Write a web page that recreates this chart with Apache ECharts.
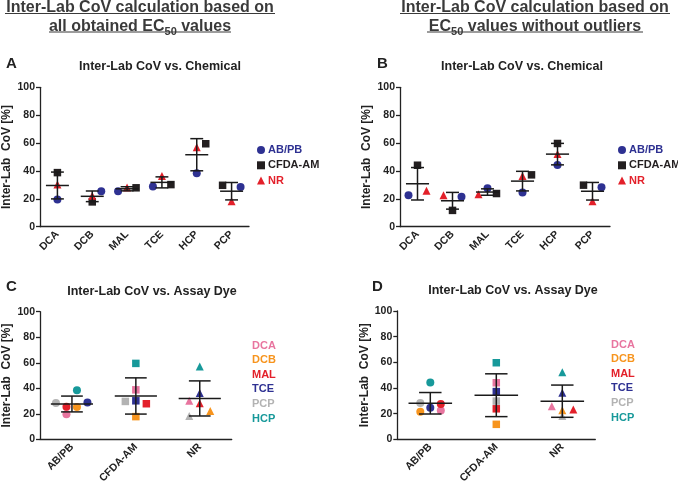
<!DOCTYPE html>
<html><head><meta charset="utf-8">
<script src="https://cdn.jsdelivr.net/npm/echarts@6/dist/echarts.min.js"></script>
<style>html,body{margin:0;padding:0;background:#fff}#c{width:678px;height:486px}</style>
</head><body><div id="c"></div>
<script>
// ---------- data ----------
const chemicals = ['DCA', 'DCB', 'MAL', 'TCE', 'HCP', 'PCP'];
const dyes = ['AB/PB', 'CFDA-AM', 'NR'];
const yTicks = [0, 20, 40, 60, 80, 100];
// all obtained EC50 values (panels A & C), per dye, in chemical order
const allABPB = [19.6, 25.4, 25.5, 28.9, 38.4, 28.4];
const allCFDA = [38.8, 17.8, 27.9, 30.2, 59.5, 29.7];
const allNR   = [30.3, 22.2, 28.2, 36.3, 57.0, 18.3];
// EC50 values without outliers (panels B & D)
const noOutABPB = [22.5, 21.5, 27.5, 24.6, 44.3, 28.3];
const noOutCFDA = [44.1, 11.7, 23.8, 37.2, 59.7, 29.8];
const noOutNR   = [25.8, 22.6, 23.3, 36.3, 52.2, 18.2];

// ---------- styles ----------
const dyeColor = {'AB/PB': '#2e3192', 'CFDA-AM': '#231f20', 'NR': '#e3202a'};
const dyeSymbol = {'AB/PB': 'circle', 'CFDA-AM': 'rect', 'NR': 'triangle'};
const dyeSize = {'AB/PB': 8, 'CFDA-AM': 7.5, 'NR': 8};
const chemColor = {DCA: '#e8759f', DCB: '#f7941d', MAL: '#e3202a', TCE: '#2e3192', PCP: '#b3b3b3', HCP: '#17999a'};
const chemLegendOrder = ['DCA', 'DCB', 'MAL', 'TCE', 'PCP', 'HCP'];
// jitter offsets (px) used only for drawing, as in the original scatter plot
const jitterA = {'AB/PB': [0, 9, -9, -9, 0, 9], 'CFDA-AM': [0, 0, 9, 9, 9, -9], 'NR': [0, 0, 0, 0, 0, 0]};
const jitterB = {'AB/PB': [-9, 9, 0, 0, 0, 9], 'CFDA-AM': [0, 0, 9, 9, 0, -9], 'NR': [9, -9, -9, 0, 0, 0]};
// per chemical: offsets for [AB/PB, CFDA-AM, NR]
const jitterC = {DCA: [-5.5, 0, -10.5], DCB: [5, 0, 10.5], MAL: [-5.5, 10.5, 0], TCE: [15.5, 0, 0], HCP: [5, 0, 0], PCP: [-16, -10.5, -10.5]};
const jitterD = {DCA: [10.5, 0, -10.5], DCB: [-10, 0, 0], MAL: [10.5, 0, 11], TCE: [0, 0, 0], HCP: [0, 0, 0], PCP: [-10, 0, 0]};

function meanSd(arr) {
  const m = arr.reduce((a, b) => a + b, 0) / arr.length;
  const v = arr.reduce((a, b) => a + (b - m) * (b - m), 0) / (arr.length - 1);
  return [m, Math.sqrt(v)];
}

const font = 'Liberation Sans, Arial, sans-serif';
const txt = '#222';

function axesFor(gi, cats, nameGap) {
  return {
    x: {
      type: 'category', gridIndex: gi, data: cats, boundaryGap: true,
      axisLine: {lineStyle: {color: txt, width: 1.3}},
      axisTick: {alignWithLabel: true, length: 4, lineStyle: {color: txt, width: 1.3}},
      axisLabel: {rotate: 45, fontSize: 10.5, fontWeight: 'bold', color: txt, fontFamily: font, margin: 6}
    },
    y: {
      type: 'value', gridIndex: gi, min: 0, max: 100, interval: 20,
      name: 'Inter-Lab  CoV [%]', nameLocation: 'middle', nameGap: nameGap,
      nameTextStyle: {fontSize: 12, fontWeight: 'bold', color: txt, fontFamily: font},
      axisLine: {show: true, lineStyle: {color: txt, width: 1.3}},
      axisTick: {show: true, length: 4, lineStyle: {color: txt, width: 1.3}},
      splitLine: {show: false},
      axisLabel: {fontSize: 10.5, fontWeight: 'bold', color: txt, fontFamily: font, margin: 5,
        formatter: v => yTicks.includes(v) ? String(v) : ''}
    }
  };
}

function errSeries(gi, groups, meanFrac, capFrac) {
  const data = groups.map((g, i) => { const [m, s] = meanSd(g); return [i, m, m - s, m + s]; });
  return {
    type: 'custom', xAxisIndex: gi, yAxisIndex: gi, z: 5, silent: true,
    data: data,
    renderItem: function (params, api) {
      const c = api.coord([api.value(0), api.value(1)]);
      const lo = api.coord([api.value(0), api.value(2)]);
      const hi = api.coord([api.value(0), api.value(3)]);
      const bw = api.size([1, 0])[0];
      const hm = bw * meanFrac / 2, hc = bw * capFrac / 2;
      const st = {stroke: '#1a1a1a', lineWidth: 1.5};
      return {type: 'group', children: [
        {type: 'line', shape: {x1: c[0] - hm, y1: c[1], x2: c[0] + hm, y2: c[1]}, style: st},
        {type: 'line', shape: {x1: c[0], y1: lo[1], x2: c[0], y2: hi[1]}, style: st},
        {type: 'line', shape: {x1: c[0] - hc, y1: lo[1], x2: c[0] + hc, y2: lo[1]}, style: st},
        {type: 'line', shape: {x1: c[0] - hc, y1: hi[1], x2: c[0] + hc, y2: hi[1]}, style: st}
      ]};
    }
  };
}

const grids = [
  {left: 40, top: 87.3, width: 209, height: 139.4},
  {left: 400, top: 87.3, width: 210, height: 139.4},
  {left: 35.7, top: 311.7, width: 196, height: 130.6},
  {left: 397.3, top: 311, width: 198, height: 131.3}
];

const axA = axesFor(0, chemicals, 27), axB = axesFor(1, chemicals, 27);
const axC = axesFor(2, dyes, 27), axD = axesFor(3, dyes, 27);

const series = [];
function chemPanel(gi, vals, jit) {
  dyes.forEach((d, k) => {
    series.push({
      name: d, type: 'scatter', xAxisIndex: gi, yAxisIndex: gi, z: 3,
      symbol: dyeSymbol[d], symbolSize: dyeSize[d],
      itemStyle: {color: dyeColor[d], opacity: 1},
      data: vals[k].map((v, i) => ({value: [i, v], symbolOffset: [jit[d][i], 0]}))
    });
  });
  const groups = chemicals.map((c, i) => vals.map(a => a[i]));
  series.push(errSeries(gi, groups, 0.66, 0.37));
}
function dyePanel(gi, vals, jit) {
  chemicals.forEach((c, i) => {
    series.push({
      name: c, type: 'scatter', xAxisIndex: gi, yAxisIndex: gi, z: 3,
      itemStyle: {color: chemColor[c], opacity: 1},
      data: dyes.map((d, k) => ({value: [k, vals[k][i]], symbol: dyeSymbol[d], symbolSize: dyeSize[d],
        symbolOffset: [jit[c][k], 0]}))
    });
  });
  series.push(errSeries(gi, vals, 0.66, 0.34));
}
chemPanel(0, [allABPB, allCFDA, allNR], jitterA);
chemPanel(1, [noOutABPB, noOutCFDA, noOutNR], jitterB);
dyePanel(2, [allABPB, allCFDA, allNR], jitterC);
dyePanel(3, [noOutABPB, noOutCFDA, noOutNR], jitterD);

function dyeLegend(left) {
  return {
    orient: 'vertical', left: left, top: 144.5, itemWidth: 8, itemHeight: 8, itemGap: 4.3,
    selectedMode: false, padding: 0,
    textStyle: {fontSize: 11, fontWeight: 'bold', fontFamily: font, padding: [0, 0, 0, -2]},
    data: dyes.map(d => ({name: d, icon: dyeSymbol[d], textStyle: {color: dyeColor[d]}}))
  };
}
function chemLegend(left, top) {
  return {
    orient: 'vertical', left: left, top: top, itemWidth: 0, itemHeight: 8, itemGap: 3.6,
    selectedMode: false, padding: 0,
    textStyle: {fontSize: 11, fontWeight: 'bold', fontFamily: font},
    data: chemLegendOrder.map(c => ({name: c, icon: 'none', textStyle: {color: chemColor[c]}}))
  };
}

const titleRich = {
  m: {fontSize: 16, fontWeight: 'bold', fill: '#3a3a3a', fontFamily: font},
  s: {fontSize: 11, fontWeight: 'bold', fill: '#3a3a3a', fontFamily: font, padding: [9, 0, 0, 0]}
};
function mainText(x, y, text) {
  return {type: 'text', x: x, y: y,
    style: {text: text, align: 'center', verticalAlign: 'top', rich: titleRich, fill: '#3a3a3a'}};
}
function uline(x1, x2, y) {
  return {type: 'line', shape: {x1: x1, y1: y, x2: x2, y2: y}, style: {stroke: '#3a3a3a', lineWidth: 1.2}};
}
function panelTitle(x, y, text) {
  return {text: text, left: x, top: y, textAlign: 'center', padding: 0,
    textStyle: {fontSize: 12.5, fontWeight: 'bold', color: txt, fontFamily: font}};
}
function letter(x, y, t) {
  return {text: t, left: x, top: y, padding: 0, textStyle: {fontSize: 15, fontWeight: 'bold', color: txt, fontFamily: font}};
}

const chart = echarts.init(document.getElementById('c'), null, {renderer: 'canvas'});
chart.setOption({
  backgroundColor: '#fff',
  animation: false,
  title: [
    letter(6, 56, 'A'), letter(377, 56, 'B'), letter(6, 279, 'C'), letter(372, 279, 'D'),
    panelTitle(160, 60, 'Inter-Lab CoV vs. Chemical'),
    panelTitle(522, 60, 'Inter-Lab CoV vs. Chemical'),
    panelTitle(152, 285, 'Inter-Lab CoV vs. Assay Dye'),
    panelTitle(513, 284, 'Inter-Lab CoV vs. Assay Dye')
  ],
  graphic: [
    mainText(140, 0, '{m|Inter-Lab CoV calculation based on}'),
    mainText(140, 17, '{m|all obtained EC}{s|50}{m| values}'),
    mainText(535, 0, '{m|Inter-Lab CoV calculation based on}'),
    mainText(535, 17, '{m|EC}{s|50}{m| values without outliers}'),
    uline(5, 275, 13.5), uline(49, 231, 32), uline(400, 670, 13.5), uline(427, 643, 32)
  ],
  legend: [dyeLegend(257), dyeLegend(618), chemLegend(247, 340), chemLegend(606, 339)],
  grid: grids,
  xAxis: [axA.x, axB.x, axC.x, axD.x],
  yAxis: [axA.y, axB.y, axC.y, axD.y],
  series: series
});
</script></body></html>
